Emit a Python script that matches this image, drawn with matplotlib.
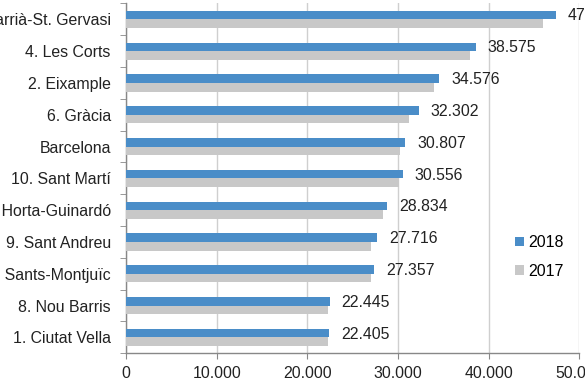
import matplotlib
matplotlib.use("Agg")
import matplotlib.pyplot as plt
from matplotlib.ticker import FuncFormatter, FixedLocator
import numpy as np

categories = ["5. Sarrià-St. Gervasi", "4. Les Corts", "2. Eixample", "6. Gràcia",
              "Barcelona", "10. Sant Martí", "7. Horta-Guinardó", "9. Sant Andreu",
              "3. Sants-Montjuïc", "8. Nou Barris", "1. Ciutat Vella"]
values_2018 = [47430, 38575, 34576, 32302, 30807, 30556, 28834, 27716, 27357, 22445, 22405]
values_2017 = [46050, 37960, 33980, 31260, 30230, 30090, 28320, 27030, 27000, 22250, 22250]
xticks = [0, 10000, 20000, 30000, 40000, 50000]

plt.rcParams['font.family'] = ['Liberation Sans', 'DejaVu Sans']
FS = 11.4

W, H = 585, 390
fig = plt.figure(figsize=(W / 100, H / 100), dpi=100)
ax = fig.add_axes([126.1 / W, (H - 353.3) / H, (579.3 - 126.1) / W, (353.3 - 3.4) / H])

n = len(categories)
pos = np.arange(n)[::-1]
bh = 0.27
blue = "#4A8DC8"
gray = "#C8C8C8"

ax.barh(pos + bh / 2, values_2018, height=bh, color=blue, label="2018", zorder=3)
ax.barh(pos - bh / 2, values_2017, height=bh, color=gray, label="2017", zorder=3)

fmt = lambda v: f"{int(v):,}".replace(",", ".")
for p, v in zip(pos, values_2018):
    ax.text(v + 1300, p + bh / 2 - 0.03, fmt(v), va="center", ha="left",
            fontsize=FS, color="#222222", clip_on=False)

ax.set_xlim(0, 50000)
ax.set_ylim(-0.5, n - 0.5)
ax.set_xticks(xticks)
ax.xaxis.set_major_formatter(FuncFormatter(lambda v, _: fmt(v)))
ax.set_yticks(pos)
ax.set_yticklabels(categories)
ax.yaxis.set_minor_locator(FixedLocator(np.arange(-0.5, n, 1.0)))
ax.tick_params(axis="y", which="major", length=0, pad=11, labelsize=FS, labelcolor="#222222")
ax.tick_params(axis="y", which="minor", length=4, color="#888888", direction="out")
ax.tick_params(axis="x", length=4, color="#888888", pad=5, labelsize=FS, labelcolor="#222222")

ax.grid(axis="x", color="#CFCFCF", linewidth=1.0, zorder=0)
ax.set_axisbelow(True)
for s in ["top", "right"]:
    ax.spines[s].set_visible(False)
for s in ["left", "bottom"]:
    ax.spines[s].set_color("#888888")
    ax.spines[s].set_linewidth(1.0)

leg = ax.legend(loc="center left", bbox_to_anchor=(515 / W, 1 - 257 / H),
                bbox_transform=fig.transFigure, frameon=False, fontsize=FS,
                handlelength=0.55, handleheight=0.55, handletextpad=0.3,
                labelspacing=0.85, borderpad=0, borderaxespad=0)

fig.savefig("out.png", dpi=100)
